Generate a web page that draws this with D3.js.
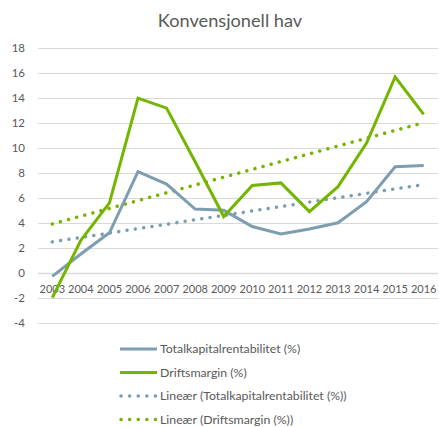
<!DOCTYPE html>
<html>
<head>
<meta charset="utf-8">
<script src="https://cdn.jsdelivr.net/npm/d3@7"></script>
<style>
  body { margin: 0; background: #fff; }
  text { font-family: Lato, "Open Sans", sans-serif; fill: #595959; }
</style>
</head>
<body>
<div id="chart"></div>
<script>
var years = ["2003","2004","2005","2006","2007","2008","2009","2010","2011","2012","2013","2014","2015","2016"];
var totalkapital = [-0.3, 1.5, 3.2, 8.1, 7.1, 5.1, 5.0, 3.7, 3.1, 3.5, 4.0, 5.7, 8.5, 8.6];
var driftsmargin = [-2.0, 2.6, 5.6, 14.0, 13.2, 8.9, 4.5, 7.0, 7.2, 4.9, 6.9, 10.4, 15.7, 12.7];
var yTicks = [-4, -2, 0, 2, 4, 6, 8, 10, 12, 14, 16, 18];
var legendLabels = ["Totalkapitalrentabilitet (%)", "Driftsmargin (%)",
    "Lineær (Totalkapitalrentabilitet (%))", "Lineær (Driftsmargin (%))"];

var blue = "#7d9db0", green = "#74b500";

// least squares trend, like Excel's linear trendline
function trend(vals) {
    var n = vals.length, mx = (n - 1) / 2, my = d3.mean(vals);
    var sxy = 0, sxx = 0;
    vals.forEach(function(v, i) { sxy += (i - mx) * (v - my); sxx += (i - mx) * (i - mx); });
    var b = sxy / sxx, a = my - b * mx;
    return vals.map(function(v, i) { return a + b * i; });
}

var width = 439, height = 427;
var svg = d3.select("#chart").append("svg")
    .attr("width", width).attr("height", height);

var x = d3.scaleBand().domain(years).range([38, 438]);
var y = d3.scaleLinear().domain([-4, 18]).range([322.5, 48.3]);

svg.append("text")
    .attr("x", 230).attr("y", 27)
    .attr("text-anchor", "middle")
    .style("font-size", "18.2px")
    .text("Konvensjonell hav");

// gridlines
svg.append("g").selectAll("line")
    .data(yTicks).enter().append("line")
    .attr("x1", 38).attr("x2", 438)
    .attr("y1", function(d) { return Math.round(y(d)) + 0.5; })
    .attr("y2", function(d) { return Math.round(y(d)) + 0.5; })
    .attr("stroke", "#d9d9d9")
    .attr("stroke-width", function(d) { return d === 0 ? 1.5 : 1; });

// Y axis labels
svg.append("g").selectAll("text")
    .data(yTicks).enter().append("text")
    .attr("x", 25).attr("y", function(d) { return y(d); })
    .attr("dy", "0.35em")
    .attr("text-anchor", "end")
    .style("font-size", "11.5px")
    .text(function(d) { return d; });

// category labels under zero line
svg.append("g").selectAll("text")
    .data(years).enter().append("text")
    .attr("x", function(d) { return x(d) + x.bandwidth() / 2; })
    .attr("y", y(0) + 20)
    .attr("text-anchor", "middle")
    .style("font-size", "11px")
    .text(function(d) { return d; });

var line = d3.line()
    .x(function(d, i) { return x(years[i]) + x.bandwidth() / 2; })
    .y(function(d) { return y(d); });

function addSeries(vals, color, dotted) {
    var p = svg.append("path")
        .datum(vals)
        .attr("d", line)
        .attr("fill", "none")
        .attr("stroke", color);
    if (dotted) {
        p.attr("stroke-width", 3.5)
         .attr("stroke-linecap", "round")
         .attr("stroke-dasharray", "0.1 8.3");
    } else {
        p.attr("stroke-width", 3)
         .attr("stroke-linejoin", "miter");
    }
}

addSeries(trend(totalkapital), blue, true);
addSeries(trend(driftsmargin), green, true);
addSeries(totalkapital, blue, false);
addSeries(driftsmargin, green, false);

// legend
var legendColors = [blue, green, blue, green];
var legendDotted = [false, false, true, true];
var lg = svg.append("g").selectAll("g")
    .data(legendLabels).enter().append("g")
    .attr("transform", function(d, i) { return "translate(0," + (349 + i * 23.5) + ")"; });
lg.append("line")
    .attr("x1", function(d, i) { return legendDotted[i] ? 121 : 120; })
    .attr("x2", 157)
    .attr("y1", 0).attr("y2", 0)
    .attr("stroke", function(d, i) { return legendColors[i]; })
    .attr("stroke-width", function(d, i) { return legendDotted[i] ? 3.5 : 3; })
    .attr("stroke-linecap", function(d, i) { return legendDotted[i] ? "round" : "butt"; })
    .attr("stroke-dasharray", function(d, i) { return legendDotted[i] ? "0.1 8.5" : null; });
lg.append("text")
    .attr("x", 160).attr("y", 0)
    .attr("dy", "0.35em")
    .style("font-size", "12.3px")
    .text(function(d) { return d; });
</script>
</body>
</html>
